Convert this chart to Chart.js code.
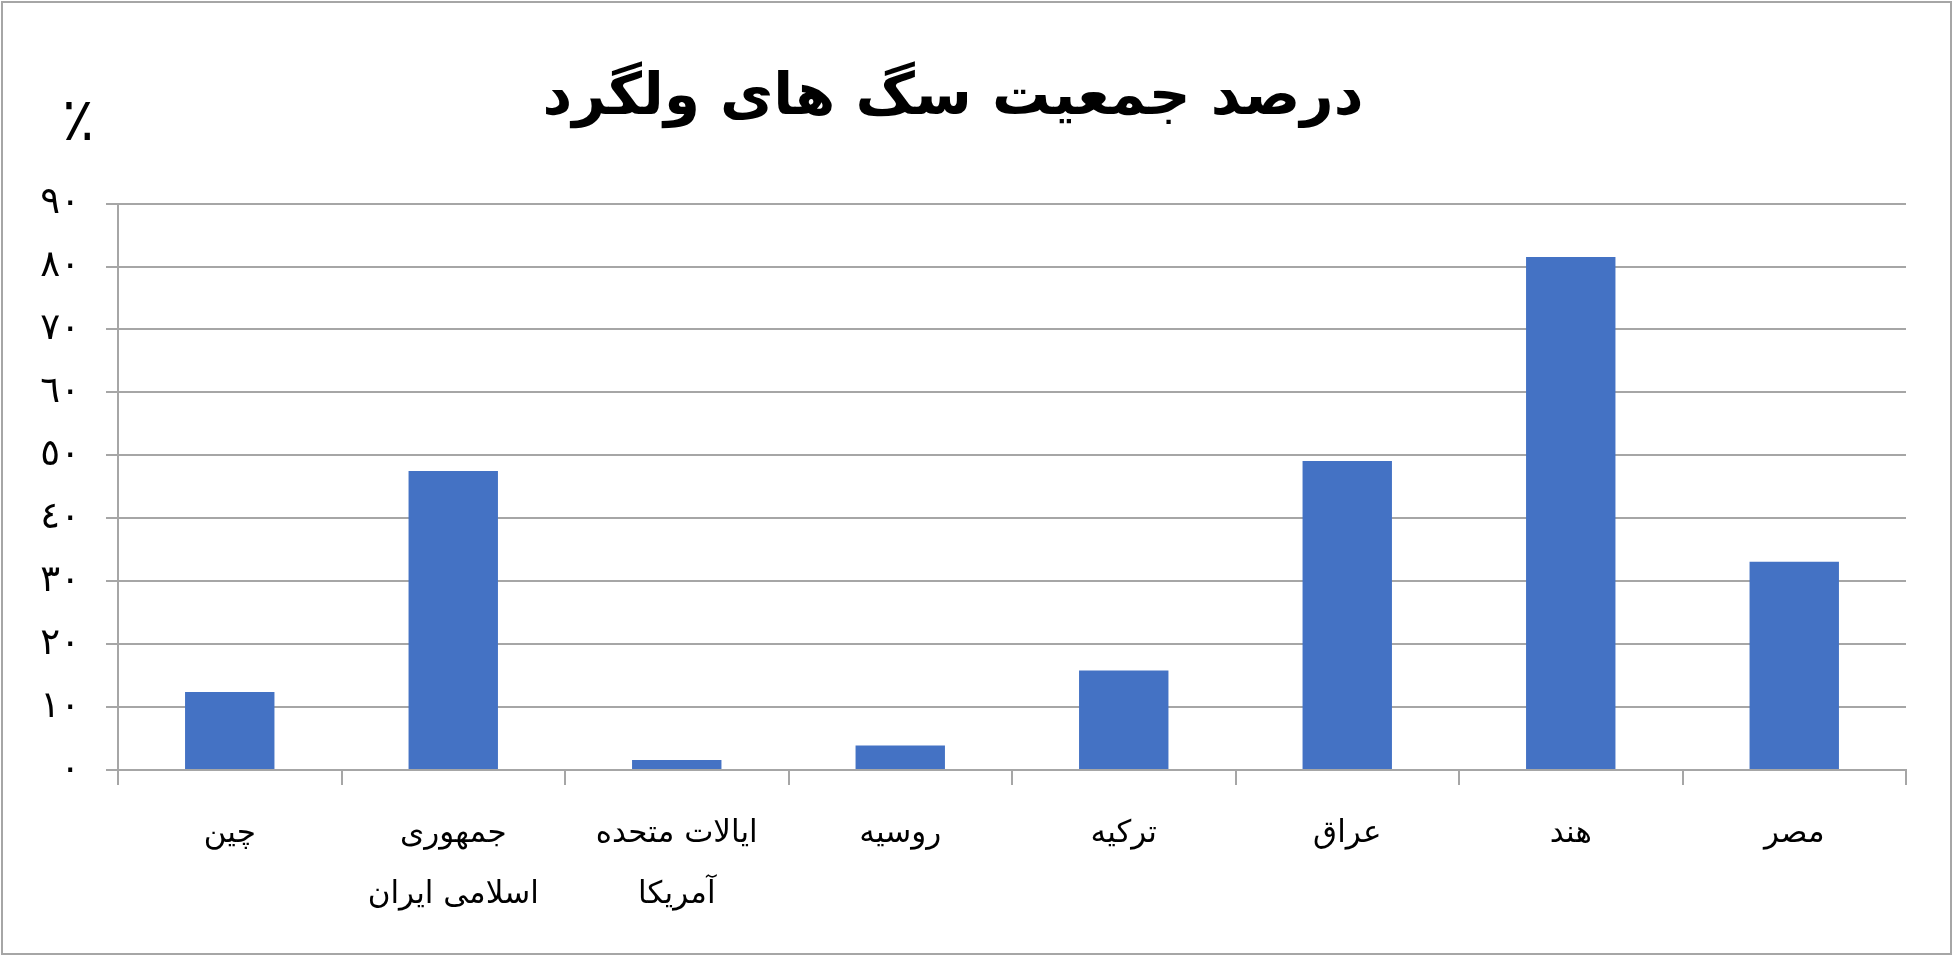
<!DOCTYPE html>
<html>
<head>
<meta charset="utf-8">
<script src="https://cdn.jsdelivr.net/npm/chart.js@4.4.1/dist/chart.umd.min.js"></script>
<style>
  html, body { margin: 0; padding: 0; background: #ffffff; }
  #wrap { width: 1953px; height: 956px; position: relative; }
</style>
</head>
<body>
<div id="wrap"><canvas id="c" width="1953" height="956"></canvas></div>
<script>
// ---- data ----
const titleText = 'درصد جمعیت سگ های ولگرد';
const unitLabel = '٪';
const categories = [
  'چین',
  ['جمهوری', 'اسلامی ایران'],
  ['ایالات متحده', 'آمریکا'],
  'روسیه',
  'ترکیه',
  'عراق',
  'هند',
  'مصر'
];
const values = [12.4, 47.5, 1.6, 3.9, 15.8, 49.1, 81.5, 33.1];
const yTickLabels = ['٠', '١٠', '٢٠', '٣٠', '٤٠', '٥٠', '٦٠', '٧٠', '٨٠', '٩٠'];

const FONT = "'DejaVu Sans', 'Liberation Serif', serif";
const GRID = '#a6a6a6';

const framePlugin = {
  id: 'frame',
  beforeDraw(chart) {
    const ctx = chart.ctx;
    ctx.save();
    ctx.fillStyle = '#ffffff';
    ctx.fillRect(0, 0, chart.width, chart.height);
    ctx.strokeStyle = '#a6a6a6';
    ctx.lineWidth = 2;
    ctx.strokeRect(2, 2, chart.width - 4, chart.height - 4);
    ctx.restore();
  },
  afterDraw(chart) {
    const ctx = chart.ctx;
    ctx.save();
    ctx.fillStyle = '#000000';
    ctx.font = "60px " + FONT;
    ctx.textAlign = 'center';
    ctx.textBaseline = 'middle';
    ctx.fillText(unitLabel, 78, 124);
    ctx.restore();
  }
};

new Chart(document.getElementById('c'), {
  type: 'bar',
  data: {
    labels: categories,
    datasets: [{
      data: values,
      backgroundColor: '#4472C4',
      borderWidth: 0,
      barPercentage: 0.4,
      categoryPercentage: 1.0
    }]
  },
  plugins: [framePlugin],
  options: {
    responsive: false,
    animation: false,
    devicePixelRatio: 1,
    layout: { padding: { left: 0, right: 47, top: 0, bottom: 0 } },
    plugins: {
      legend: { display: false },
      tooltip: { enabled: false },
      title: {
        display: true,
        text: titleText,
        color: '#000000',
        font: { family: FONT, size: 58, weight: 'bold', lineHeight: 1.2 },
        padding: { top: 64, bottom: 70 }
      }
    },
    scales: {
      x: {
        offset: true,
        grid: {
          display: true,
          drawOnChartArea: false,
          drawTicks: true,
          tickLength: 15,
          offset: true,
          color: GRID,
          lineWidth: 2
        },
        border: { display: true, color: GRID, width: 2 },
        ticks: {
          color: '#000000',
          font: { family: FONT, size: 31, lineHeight: 1.95 },
          padding: 19,
          maxRotation: 0,
          autoSkip: false
        },
        afterFit(scale) { scale.height = 186; }
      },
      y: {
        min: 0,
        max: 90,
        grid: {
          color: GRID,
          lineWidth: 2,
          drawTicks: true,
          tickLength: 12
        },
        border: { display: true, color: GRID, width: 2 },
        ticks: {
          stepSize: 10,
          color: '#000000',
          font: { family: FONT, size: 37 },
          padding: 26,
          callback: (v) => yTickLabels[Math.round(v / 10)]
        },
        afterFit(scale) { scale.width = 118; }
      }
    }
  }
});
</script>
</body>
</html>
